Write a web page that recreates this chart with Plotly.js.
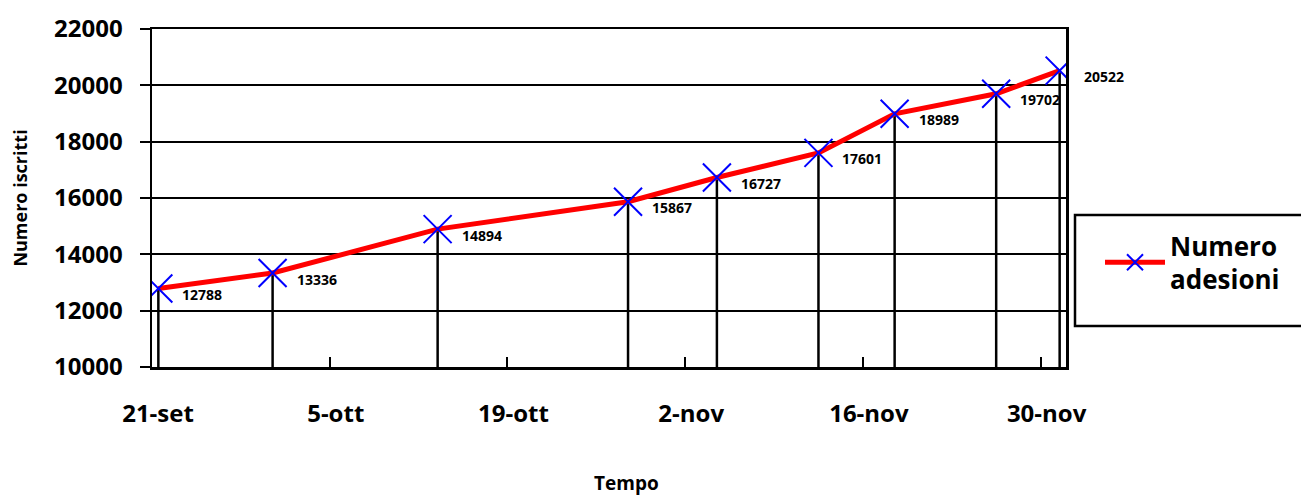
<!DOCTYPE html>
<html>
<head>
<meta charset="utf-8">
<script src="https://cdn.plot.ly/plotly-3.0.1.min.js"></script>
<style>html,body{margin:0;padding:0;background:#fff;}#chart{width:1301px;height:496px;}</style>
</head>
<body>
<div id="chart"></div>
<script>
// Data
const dates = ['2009-09-21','2009-09-30','2009-10-13','2009-10-28','2009-11-04','2009-11-12','2009-11-18','2009-11-26','2009-12-01'];
const adesioni = [12788,13336,14894,15867,16727,17601,18989,19702,20522];
const tickDates = ['2009-09-21','2009-10-05','2009-10-19','2009-11-02','2009-11-16','2009-11-30'];
const tickLabels = ['21-set','5-ott','19-ott','2-nov','16-nov','30-nov'];
const seriesName = 'Numero<br>adesioni';
const yBase = 10000;

// Excel date axis places each point in the middle of its day slot
const xs = dates.map(d => d + ' 12:00');

const font = {family: 'Open Sans, sans-serif', color: '#000', weight: 'bold'};

const trace = {
  x: xs, y: adesioni, type: 'scatter', mode: 'lines+markers', name: seriesName,
  line: {color: '#ff0000', width: 5},
  marker: {symbol: 'x-thin-open', size: 28, color: '#0000ff', line: {color: '#0000ff', width: 2}},
  error_y: {type: 'data', symmetric: false, array: adesioni.map(() => 0),
            arrayminus: adesioni.map(v => v - yBase), color: '#000', thickness: 2.5, width: 0}
};

const labels = adesioni.map((v, i) => ({
  x: xs[i], y: v, xref: 'x', yref: 'y', text: String(v), showarrow: false,
  xanchor: 'left', yanchor: 'middle', xshift: 22, yshift: -6,
  font: Object.assign({}, font, {size: 14})
}));
labels.push({
  xref: 'paper', yref: 'paper', x: (626 - 152) / 914, y: -(483 - 367) / 338,
  xanchor: 'center', yanchor: 'middle', text: 'Tempo', showarrow: false,
  font: Object.assign({}, font, {size: 19})
});

const px = v => (v - 152) / 914;
const py = v => (367 - v) / 338;

const layout = {
  width: 1301, height: 496,
  margin: {l: 152, r: 235, t: 29, b: 129},
  paper_bgcolor: '#fff', plot_bgcolor: '#fff',
  showlegend: true,
  xaxis: {
    type: 'date', range: ['2009-09-21', '2009-12-02'],
    tickvals: tickDates, ticktext: tickLabels,
    ticks: 'inside', ticklen: 10, tickwidth: 2, tickcolor: '#000',
    ticklabelshift: 6, ticklabelstandoff: 24,
    showgrid: false, zeroline: false,
    showline: true, linecolor: '#000', linewidth: 2.5, mirror: true,
    tickfont: Object.assign({}, font, {size: 24})
  },
  yaxis: {
    range: [10000, 22000], dtick: 2000, tick0: 10000, tickformat: 'd',
    ticks: 'outside', ticklen: 10, tickwidth: 2, tickcolor: '#000',
    ticklabelstandoff: 12,
    showgrid: true, gridcolor: '#000', gridwidth: 2, zeroline: false,
    showline: true, linecolor: '#000', linewidth: 2.5, mirror: true,
    tickfont: Object.assign({}, font, {size: 24}),
    title: {text: 'Numero iscritti', standoff: 22, font: Object.assign({}, font, {size: 18})}
  },
  legend: {
    x: px(1100), y: py(222), xanchor: 'left', yanchor: 'top',
    borderwidth: 0, bgcolor: 'rgba(0,0,0,0)',
    font: Object.assign({}, font, {size: 26}), itemwidth: 60
  },
  shapes: [{
    type: 'rect', xref: 'paper', yref: 'paper',
    x0: px(1075), x1: px(1320), y0: py(215), y1: py(326),
    line: {color: '#000', width: 2.5}, fillcolor: 'rgba(0,0,0,0)', layer: 'above'
  }],
  annotations: labels
};

Plotly.newPlot('chart', [trace], layout, {displayModeBar: false, staticPlot: true});
</script>
</body>
</html>
